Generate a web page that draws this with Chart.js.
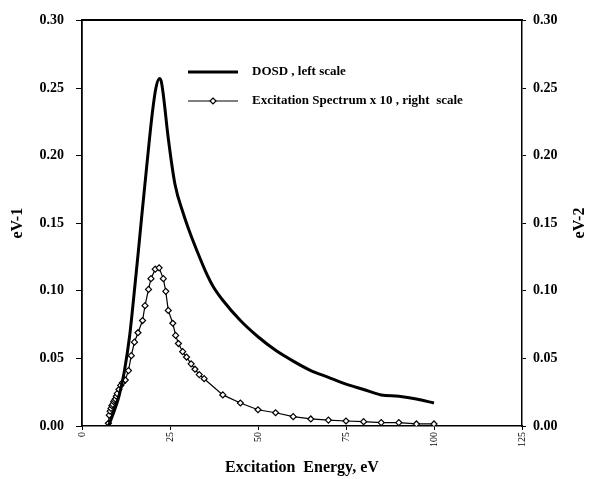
<!DOCTYPE html>
<html>
<head>
<meta charset="utf-8">
<script src="https://cdn.jsdelivr.net/npm/chart.js@4.4.0/dist/chart.umd.min.js"></script>
<style>
  html, body { margin: 0; padding: 0; background: #fff; }
  #wrap { width: 597px; height: 479px; }
</style>
</head>
<body>
<div id="wrap"><canvas id="chart" width="597" height="479"></canvas></div>
<script>
// DOSD curve (left scale)
const dosdEnergy = [7.5, 9, 10.5, 12, 13.5, 15, 16, 17, 18, 19, 20, 21, 22, 22.5, 23.1, 24.5, 26.4, 28.8, 30.8, 32.6, 35, 37.3, 40, 45, 50, 55, 60, 65, 70, 75, 80, 85, 90, 95, 100];
const dosdValues = [0, 0.010, 0.022, 0.040, 0.066, 0.103, 0.129, 0.156, 0.182, 0.208, 0.232, 0.250, 0.257, 0.255, 0.245, 0.213, 0.179, 0.157, 0.142, 0.130, 0.115, 0.103, 0.093, 0.078, 0.066, 0.056, 0.048, 0.041, 0.036, 0.031, 0.027, 0.023, 0.022, 0.020, 0.017];

// Excitation spectrum x 10 (right scale)
const excEnergy = [7.5, 7.75, 8, 8.25, 8.5, 8.75, 9, 9.25, 9.5, 9.75, 10, 10.5, 11, 11.5, 12.3, 13.2, 14, 14.9, 15.9, 17.2, 17.9, 18.9, 19.6, 20.8, 21.9, 23.1, 23.8, 24.5, 25.8, 26.6, 27.4, 28.6, 29.7, 31, 32.1, 33.3, 34.7, 40, 45, 50, 55, 60, 65, 70, 75, 80, 85, 90, 95, 100];
const excValues = [0.002, 0.008, 0.011, 0.013, 0.015, 0.016, 0.018, 0.019, 0.020, 0.022, 0.024, 0.027, 0.030, 0.032, 0.034, 0.041, 0.052, 0.062, 0.069, 0.078, 0.089, 0.101, 0.109, 0.116, 0.117, 0.109, 0.0996, 0.0855, 0.076, 0.067, 0.061, 0.055, 0.051, 0.046, 0.042, 0.038, 0.035, 0.023, 0.017, 0.012, 0.0098, 0.0069, 0.0052, 0.0044, 0.0037, 0.0032, 0.0025, 0.0025, 0.0015, 0.0015];

const energyRange = [0, 125];
const energyStep = 25;
const valueRange = [0, 0.30];
const valueStep = 0.05;

const legendLabels = ['DOSD , left scale', 'Excitation Spectrum x 10 , right  scale'];
const rightTitle = 'eV-2';

const serif = '"Liberation Serif", "Times New Roman", serif';

function toPoints(xs, ys) {
  return xs.map((x, i) => ({ x: x, y: ys[i] }));
}

// legend inside the plot + right axis title (reads bottom to top like the left one)
const overlayText = {
  id: 'overlayText',
  afterDraw(chart) {
    const ctx = chart.ctx;
    ctx.save();
    ctx.strokeStyle = '#000';
    ctx.fillStyle = '#000';
    ctx.textBaseline = 'middle';
    ctx.font = 'bold 13px ' + serif;

    // DOSD sample
    ctx.lineWidth = 3;
    ctx.beginPath();
    ctx.moveTo(188, 72);
    ctx.lineTo(238, 72);
    ctx.stroke();
    ctx.fillText(legendLabels[0], 252, 72);

    // Excitation sample
    ctx.lineWidth = 1.2;
    ctx.beginPath();
    ctx.moveTo(188, 101);
    ctx.lineTo(238, 101);
    ctx.stroke();
    ctx.beginPath();
    ctx.moveTo(213, 98);
    ctx.lineTo(216, 101);
    ctx.lineTo(213, 104);
    ctx.lineTo(210, 101);
    ctx.closePath();
    ctx.fillStyle = '#fff';
    ctx.fill();
    ctx.stroke();
    ctx.fillStyle = '#000';
    ctx.fillText(legendLabels[1], 252, 101);

    // right title
    ctx.font = 'bold 16px ' + serif;
    ctx.textAlign = 'center';
    ctx.translate(580, 223);
    ctx.rotate(-Math.PI / 2);
    ctx.fillText(rightTitle, 0, 0);
    ctx.restore();
  }
};

new Chart(document.getElementById('chart'), {
  type: 'line',
  data: {
    datasets: [
      {
        label: legendLabels[0],
        data: toPoints(dosdEnergy, dosdValues),
        yAxisID: 'y',
        borderColor: '#000',
        borderWidth: 3,
        pointRadius: 0,
        cubicInterpolationMode: 'monotone',
        fill: false
      },
      {
        label: legendLabels[1],
        data: toPoints(excEnergy, excValues),
        yAxisID: 'y2',
        borderColor: '#000',
        borderWidth: 1.2,
        tension: 0,
        pointStyle: 'rectRot',
        pointRadius: 3,
        pointBorderWidth: 1.2,
        pointBorderColor: '#000',
        pointBackgroundColor: '#fff',
        fill: false
      }
    ]
  },
  options: {
    responsive: false,
    animation: false,
    layout: { padding: 0 },
    plugins: {
      legend: { display: false },
      tooltip: { enabled: false }
    },
    scales: {
      x: {
        type: 'linear',
        position: 'bottom',
        min: energyRange[0],
        max: energyRange[1],
        afterFit: (s) => { s.height = 53; },
        ticks: {
          stepSize: energyStep,
          autoSkip: false,
          minRotation: 90,
          maxRotation: 90,
          padding: 2,
          color: '#000',
          font: { family: serif, size: 10 }
        },
        grid: { display: true, drawOnChartArea: false, drawTicks: true, tickLength: 4, color: '#000' },
        border: { display: true, color: '#000', width: 1.5 },
        title: {
          display: true,
          text: 'Excitation  Energy, eV',
          color: '#000',
          padding: { top: 0, bottom: 2 },
          font: { family: serif, size: 16, weight: 'bold' }
        }
      },
      xTop: {
        type: 'linear',
        position: 'top',
        min: energyRange[0],
        max: energyRange[1],
        afterFit: (s) => { s.height = 19; },
        ticks: { display: false },
        grid: { display: false },
        border: { display: true, color: '#000', width: 2 }
      },
      y: {
        type: 'linear',
        position: 'left',
        min: valueRange[0],
        max: valueRange[1],
        afterFit: (s) => { s.width = 82; },
        ticks: {
          stepSize: valueStep,
          padding: 12,
          color: '#000',
          font: { family: serif, size: 14, weight: 'bold' },
          callback: (v) => v.toFixed(2)
        },
        grid: { display: true, drawOnChartArea: false, drawTicks: true, tickLength: 6, color: '#000' },
        border: { display: true, color: '#000', width: 1.8 },
        title: {
          display: true,
          text: 'eV-1',
          color: '#000',
          padding: { top: 8, bottom: 0 },
          font: { family: serif, size: 16, weight: 'bold' }
        }
      },
      y2: {
        type: 'linear',
        position: 'right',
        min: valueRange[0],
        max: valueRange[1],
        afterFit: (s) => { s.width = 75; },
        ticks: {
          stepSize: valueStep,
          padding: 7,
          color: '#000',
          font: { family: serif, size: 14, weight: 'bold' },
          callback: (v) => v.toFixed(2)
        },
        grid: { display: true, drawOnChartArea: false, drawTicks: true, tickLength: 4, color: '#000' },
        border: { display: true, color: '#000', width: 1.5 }
      }
    }
  },
  plugins: [overlayText]
});
</script>
</body>
</html>
